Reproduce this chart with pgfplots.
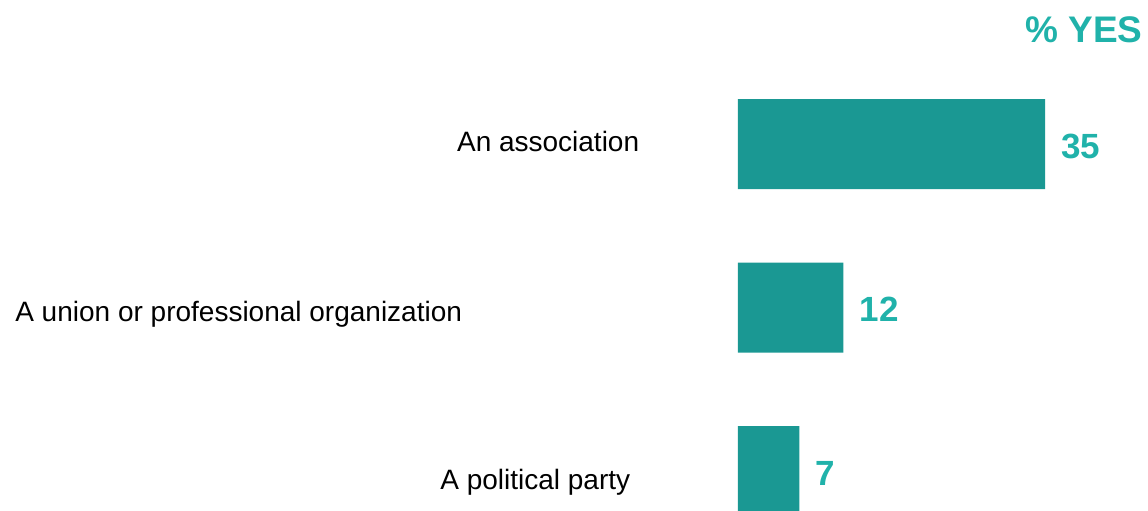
\documentclass[border=0pt]{standalone}
\usepackage{pgfplots}
\pgfplotsset{compat=1.18}
\usepackage{fontspec}
\setmainfont{Liberation Sans}
\definecolor{barteal}{RGB}{26,152,147}
\definecolor{labteal}{RGB}{32,178,170}
\begin{document}
\begin{tikzpicture}
\useasboundingbox (0,0) rectangle (574pt,255pt);
\begin{axis}[
  at={(369pt,0pt)}, anchor=south west,
  scale only axis, width=205pt, height=255pt,
  xmin=0, xmax=46.74, ymin=-0.2385, ymax=2.881,
  hide axis, clip mode=individual,
  xbar, bar width=45pt,
  /pgf/number format/assume math mode=true,
  nodes near coords,
  every node near coord/.append style={anchor=west, inner sep=0pt, xshift=8pt, yshift=-1pt,
    font=\fontsize{17.5}{21}\selectfont\bfseries, text=labteal},
]
\addplot[fill=barteal, draw=none] coordinates {(35,2) (12,1) (7,0)};
\node[anchor=base west, inner sep=0pt, font=\fontsize{14}{17}\selectfont] at (axis cs:-32.07,1.953) {An association};
\node[anchor=base west, inner sep=0pt, font=\fontsize{14}{17}\selectfont] at (axis cs:-82.43,0.913) {A union or professional organization};
\node[anchor=base west, inner sep=0pt, font=\fontsize{14}{17}\selectfont] at (axis cs:-33.98,-0.116) {A political party};
\node[anchor=base west, inner sep=0pt, font=\fontsize{18.5}{22}\selectfont\bfseries, text=labteal] at (axis cs:32.72,2.618) {\% YES};
\end{axis}
\end{tikzpicture}
\end{document}
